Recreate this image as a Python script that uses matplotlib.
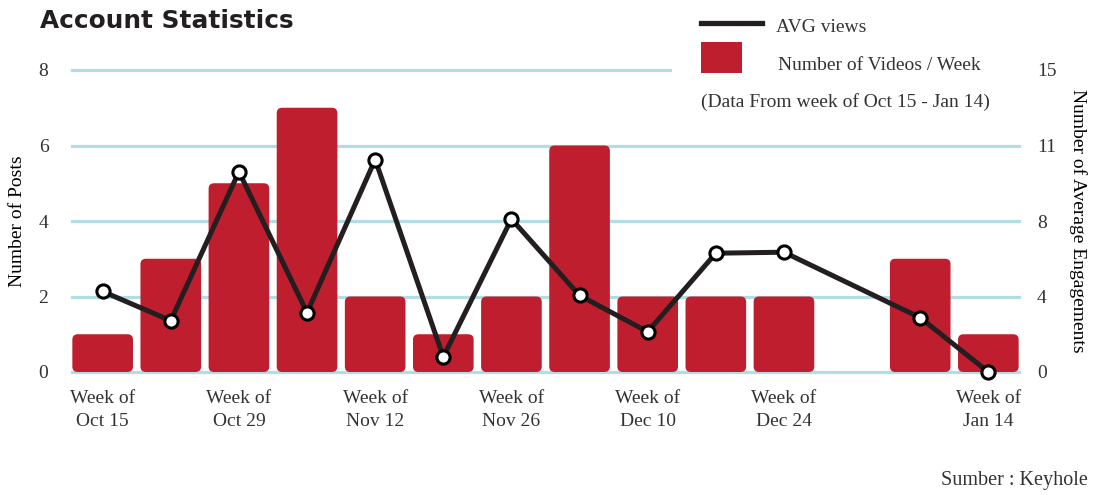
import matplotlib
matplotlib.use("Agg")
import matplotlib.pyplot as plt
import numpy as np
from matplotlib.patches import FancyBboxPatch, Rectangle
from matplotlib.lines import Line2D

# data
weeks = ["Oct 15", "Oct 22", "Oct 29", "Nov 5", "Nov 12", "Nov 19", "Nov 26",
         "Dec 3", "Dec 10", "Dec 17", "Dec 24", "Dec 31", "Jan 7", "Jan 14"]
videos_per_week = [1, 3, 5, 7, 2, 1, 2, 6, 2, 2, 2, None, 3, 1]
avg_views = [4.0, 2.55, 9.95, 2.95, 10.55, 0.75, 7.6, 3.8, 2.0, 5.9, 5.95, None, 2.7, 0.0]
tick_weeks = ["Oct 15", "Oct 29", "Nov 12", "Nov 26", "Dec 10", "Dec 24", "Jan 14"]
left_ticks = [0, 2, 4, 6, 8]
right_tick_labels = ["0", "4", "8", "11", "15"]

BAR_RED = "#BE1E2D"
LINE_DARK = "#231F20"
GRID_BLUE = "#B3DDE5"
TEXT = "#333333"
SERIF = ["Liberation Serif", "DejaVu Serif"]
FS = 14

plt.rcParams["font.family"] = SERIF
plt.rcParams["text.color"] = TEXT

W, H = 1096, 495
fig = plt.figure(figsize=(W / 100, H / 100), dpi=100)
ax = fig.add_axes([72 / W, 1 - 372 / H, (1019 - 72) / W, (372 - 70) / H])

x = np.arange(len(weeks))
ax.set_xlim(-0.45, 13.45)
ax.set_ylim(0, 8)

# gridlines
for t in left_ticks:
    ax.axhline(t, color=GRID_BLUE, lw=2.3, zorder=1, clip_on=False)

# rounded bars
bar_w = 0.89
for xi, v in zip(x, videos_per_week):
    if v is None:
        continue
    ax.add_patch(FancyBboxPatch((xi - bar_w / 2, 0), bar_w, v,
                                boxstyle="round,pad=0,rounding_size=0.08",
                                mutation_aspect=1.8,
                                fc=BAR_RED, ec="none", zorder=2))

ax.set_yticks(left_ticks)
ax.set_yticklabels([str(t) for t in left_ticks])
tick_pos = [weeks.index(w) for w in tick_weeks]
ax.set_xticks(tick_pos)
ax.set_xticklabels([f"Week of\n{w}" for w in tick_weeks], linespacing=1.45)
ax.tick_params(axis="both", length=0, labelsize=FS, colors=TEXT)
ax.tick_params(axis="y", pad=17)
ax.tick_params(axis="x", pad=13)
for s in ax.spines.values():
    s.set_visible(False)
ax.set_ylabel("Number of Posts", fontsize=FS, labelpad=9)

# line on secondary axis
ax2 = ax.twinx()
ax2.set_ylim(0, 15)
ax2.set_yticks(np.linspace(0, 15, 5))
ax2.set_yticklabels(right_tick_labels)
ax2.tick_params(axis="y", length=0, labelsize=FS, pad=13, colors=TEXT)
for s in ax2.spines.values():
    s.set_visible(False)
lx = [xi for xi, v in zip(x, avg_views) if v is not None]
ly = [v for v in avg_views if v is not None]
ax2.plot(lx, ly, color=LINE_DARK, lw=3.6, marker="o", ms=9.5,
         mfc="white", mec="black", mew=2.2, clip_on=False, zorder=3)
ax2.set_ylabel("Number of Average Engagements", fontsize=FS, rotation=270,
               labelpad=22)

# legend area (white box hides top gridline)
fig.add_artist(Rectangle((672 / W, 1 - 118 / H), 360 / W, 118 / H,
                         transform=fig.transFigure, fc="white", ec="none", zorder=5))
fig.add_artist(Line2D([701 / W, 762 / W], [1 - 23 / H, 1 - 23 / H],
                      transform=fig.transFigure, color=LINE_DARK, lw=3.8, zorder=6))
fig.text(776 / W, 1 - 27 / H, "AVG views", fontsize=FS, va="center", zorder=6)
fig.add_artist(Rectangle((701 / W, 1 - 73 / H), 41 / W, 31 / H,
                         transform=fig.transFigure, fc=BAR_RED, ec="none", zorder=6))
fig.text(778 / W, 1 - 65 / H, "Number of Videos / Week", fontsize=FS, va="center", zorder=6)
fig.text(701 / W, 1 - 102 / H, "(Data From week of Oct 15 - Jan 14)", fontsize=FS,
         va="center", zorder=6)

fig.text(40 / W, 1 - 21 / H, "Account Statistics", fontsize=17.8, fontweight="bold",
         family=["DejaVu Sans"], color="#231F20", va="center")
fig.text(1088 / W, 1 - 480 / H, "Sumber : Keyhole", fontsize=FS + 0.5, ha="right", va="center")

fig.savefig("out.png", dpi=100)
